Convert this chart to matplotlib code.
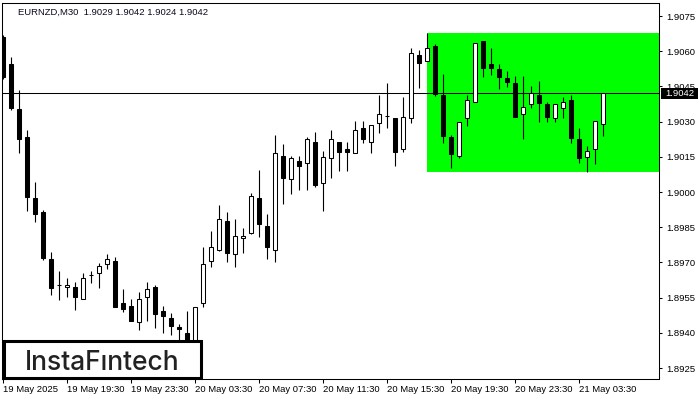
import matplotlib
matplotlib.use('Agg')
import matplotlib.pyplot as plt
from matplotlib.patches import Rectangle
from matplotlib.transforms import blended_transform_factory

# %% data (EURNZD M30)
opens = [1.9066, 1.90546, 1.90354, 1.90235, 1.89973, 1.89915, 1.89715, 1.89604, 1.89594, 1.89596,
         1.89543, 1.89647, 1.89654, 1.89692, 1.89706, 1.89526, 1.89515, 1.89445, 1.89554, 1.89596,
         1.89493, 1.89462, 1.89426, 1.89401, 1.8925, 1.89526, 1.89705, 1.89752, 1.89875, 1.89735,
         1.89803, 1.89824, 1.89973, 1.89854, 1.89752, 1.90152, 1.90054, 1.90132, 1.90123, 1.90212,
         1.9004, 1.90144, 1.90212, 1.90183, 1.90165, 1.90272, 1.90212, 1.90293, 1.90323, 1.90314,
         1.90182, 1.90314, 1.90584, 1.9056, 1.90622, 1.90413, 1.90233, 1.90152, 1.90314, 1.90382,
         1.90643, 1.90546, 1.90524, 1.90487, 1.90463, 1.90331, 1.90374, 1.90413, 1.90375, 1.90314,
         1.90359, 1.90392, 1.90225, 1.90151, 1.90182, 1.9029]
highs = [1.9067, 1.90574, 1.90435, 1.90264, 1.90043, 1.89924, 1.89746, 1.89665, 1.89634, 1.89616,
         1.89654, 1.89665, 1.89696, 1.89736, 1.89722, 1.89586, 1.89543, 1.89573, 1.89616, 1.89605,
         1.89515, 1.89484, 1.89437, 1.89493, 1.89512, 1.89767, 1.89834, 1.89945, 1.89914, 1.89885,
         1.89847, 1.89995, 1.90094, 1.89905, 1.90243, 1.90205, 1.90154, 1.90154, 1.90236, 1.90255,
         1.90175, 1.90264, 1.90212, 1.90212, 1.90303, 1.90303, 1.90284, 1.90413, 1.90463, 1.90314,
         1.90404, 1.90612, 1.90605, 1.90676, 1.9063, 1.90502, 1.90243, 1.903, 1.90413, 1.90634,
         1.90643, 1.90615, 1.90544, 1.90516, 1.90494, 1.90494, 1.90452, 1.90473, 1.90385, 1.90374,
         1.90406, 1.90413, 1.90272, 1.90196, 1.90303, 1.9042]
lows = [1.9048, 1.9035, 1.90165, 1.89919, 1.89872, 1.8971, 1.89561, 1.8954, 1.89554, 1.89498,
        1.89543, 1.89614, 1.89593, 1.89672, 1.8951, 1.8949, 1.8945, 1.89412, 1.89452, 1.89421,
        1.89401, 1.89391, 1.8937, 1.8932, 1.8922, 1.89512, 1.89682, 1.8975, 1.89703, 1.89682,
        1.89742, 1.8982, 1.8981, 1.89714, 1.89703, 1.8995, 1.8999, 1.90009, 1.90009, 1.90023,
        1.89921, 1.90061, 1.9009, 1.9009, 1.90165, 1.9021, 1.90165, 1.90253, 1.90272, 1.90112,
        1.90172, 1.90293, 1.90442, 1.9056, 1.90409, 1.9021, 1.90101, 1.90144, 1.90283, 1.90382,
        1.90491, 1.90499, 1.90439, 1.90449, 1.90321, 1.90225, 1.90359, 1.903, 1.903, 1.903,
        1.90314, 1.9021, 1.90123, 1.90084, 1.9012, 1.9024]
closes = [1.9049, 1.90359, 1.90225, 1.8998, 1.89905, 1.89718, 1.89593, 1.89604, 1.89604, 1.89554,
          1.89633, 1.89647, 1.89685, 1.89715, 1.89512, 1.89502, 1.89452, 1.89543, 1.89586, 1.8948,
          1.89473, 1.89431, 1.89415, 1.8936, 1.89512, 1.89692, 1.89765, 1.89884, 1.89742, 1.89812,
          1.89812, 1.89982, 1.89863, 1.89765, 1.90165, 1.90061, 1.90144, 1.90112, 1.90226, 1.9003,
          1.90151, 1.90225, 1.90172, 1.90172, 1.90264, 1.90225, 1.90284, 1.90331, 1.90323, 1.90172,
          1.90321, 1.90591, 1.90551, 1.90612, 1.90418, 1.9024, 1.90163, 1.903, 1.90391, 1.90634,
          1.9053, 1.9053, 1.90491, 1.9047, 1.90321, 1.90361, 1.90421, 1.90381, 1.90321, 1.90374,
          1.90382, 1.90232, 1.90144, 1.90175, 1.90303, 1.9042]

x_tick_idx = [0, 8, 16, 24, 32, 40, 48, 56, 64, 72]
x_tick_labels = ['19 May 2025', '19 May 19:30', '19 May 23:30', '20 May 03:30', '20 May 07:30',
                 '20 May 11:30', '20 May 15:30', '20 May 19:30', '20 May 23:30', '21 May 03:30']
y_ticks = [1.8925, 1.8940, 1.8955, 1.8970, 1.8985, 1.9000, 1.9015, 1.9030, 1.9045, 1.9060, 1.9075]

last_price = 1.9042
zone_start = 53
zone_low, zone_high = 1.90087, 1.90676

# %% figure
small = dict(family='Liberation Sans', size=6.8)
fig = plt.figure(figsize=(7, 4), dpi=100)
ax = fig.add_axes([2 / 700, 21 / 400, 657 / 700, 376 / 400])
ax.set_xlim(-0.125, 82)
ax.set_ylim(1.892036, 1.908054)

ax.add_patch(Rectangle((zone_start, zone_low), 100, zone_high - zone_low,
                       facecolor='#00ff00', edgecolor='none', zorder=0.5))
ax.axhline(last_price, color='black', lw=0.75, zorder=1)

w = 0.56
for i in range(len(opens)):
    o, h, l, c = opens[i], highs[i], lows[i], closes[i]
    ax.vlines(i, l, h, color='black', lw=0.8, zorder=2)
    fc = 'white' if c >= o else 'black'
    ax.add_patch(Rectangle((i - w / 2, min(o, c)), w, abs(c - o),
                           facecolor=fc, edgecolor='black', lw=0.75, zorder=3))

# axes styling
for s in ax.spines.values():
    s.set_linewidth(0.75)
ax.yaxis.tick_right()
ax.set_yticks(y_ticks)
ax.set_yticklabels(['{:.4f}'.format(v) for v in y_ticks], fontdict=small)
ax.set_xticks(x_tick_idx)
ax.set_xticklabels(x_tick_labels, fontdict=small, ha='left')
ax.tick_params(axis='y', length=2.5, width=0.75, pad=2.5)
ax.tick_params(axis='x', length=3, width=0.75, pad=1.5)

# current price label
tr = blended_transform_factory(ax.transAxes, ax.transData)
ax.add_patch(Rectangle((1 + 1.5 / 657, last_price - 0.00022), 37 / 657, 0.00044,
                       transform=tr, facecolor='black', edgecolor='none', clip_on=False, zorder=5))
ax.text(1 + 6 / 657, last_price, '{:.4f}'.format(last_price), transform=tr, color='white',
        ha='left', va='center', zorder=6, **small)

# header
fig.text(18 / 700, 1 - 12 / 400, 'EURNZD,M30  1.9029 1.9042 1.9024 1.9042',
         ha='left', va='center', color='#0a0a1e', **small)

# logo
fig.add_artist(Rectangle((3.5 / 700, 22.5 / 400), 197 / 700, 37 / 400, transform=fig.transFigure,
                         facecolor='white', edgecolor='black', lw=2.2, zorder=10))
fig.text(101.7 / 700, 30 / 400, 'InstaFıntech', ha='center', va='baseline', family='Inter',
         weight='medium', size=19, color='#222222', zorder=11)

plt.savefig('out.png', dpi=100)
